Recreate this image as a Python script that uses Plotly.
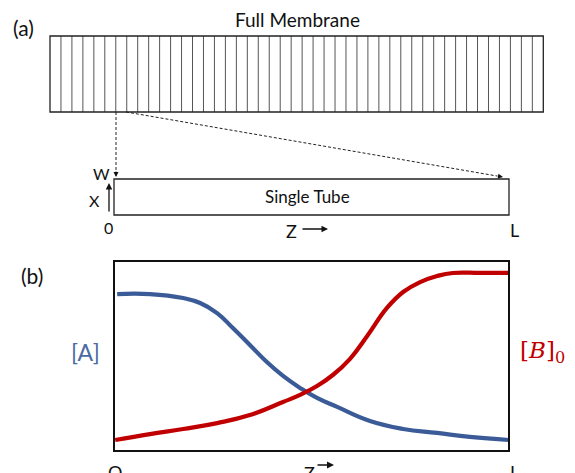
import plotly.graph_objects as go

# ---- data (panel b: normalised position along tube vs normalised concentration) ----
z_A = [0.008, 0.091, 0.175, 0.218, 0.261, 0.301, 0.344, 0.387, 0.428, 0.471,
       0.514, 0.565, 0.648, 0.732, 0.818, 0.901, 1.0]
conc_A = [0.826, 0.826, 0.805, 0.779, 0.726, 0.647, 0.558, 0.468, 0.395, 0.332,
          0.279, 0.232, 0.158, 0.116, 0.095, 0.074, 0.058]
z_B = [0.003, 0.091, 0.175, 0.261, 0.344, 0.428, 0.471, 0.514, 0.554, 0.597,
       0.641, 0.691, 0.732, 0.775, 0.818, 0.858, 0.927, 1.0]
conc_B = [0.058, 0.089, 0.116, 0.147, 0.189, 0.258, 0.295, 0.342, 0.400, 0.484,
          0.605, 0.753, 0.837, 0.889, 0.921, 0.937, 0.937, 0.937]
n_tubes = 45
x_tick_labels = ["O", "L"]

W, H = 575, 473
FONT = "Lato"
BLUE = "#3a5b97"
RED = "#c00000"

fig = go.Figure()

# overlay axis (pixel-like coordinates) for schematic panel (a)
fig.add_trace(go.Scatter(x=[0], y=[0], mode="markers", marker=dict(opacity=0),
                         hoverinfo="skip", showlegend=False, xaxis="x", yaxis="y"))

# panel (b) curves
fig.add_trace(go.Scatter(x=z_A, y=conc_A, mode="lines",
                         line=dict(color=BLUE, width=4.2, shape="spline", smoothing=1.3),
                         showlegend=False, xaxis="x2", yaxis="y2"))
fig.add_trace(go.Scatter(x=z_B, y=conc_B, mode="lines",
                         line=dict(color=RED, width=4.2, shape="spline", smoothing=1.3),
                         showlegend=False, xaxis="x2", yaxis="y2"))

shapes = []
# full membrane
mx0, mx1, my0, my1 = 50, 543.3, 36, 112
step = (mx1 - mx0) / n_tubes
for i in range(1, n_tubes):
    xi = mx0 + i * step
    shapes.append(dict(type="line", xref="x", yref="y", x0=xi, x1=xi, y0=my0, y1=my1,
                       line=dict(color="#555", width=1)))
shapes.append(dict(type="rect", xref="x", yref="y", x0=mx0, x1=mx1, y0=my0, y1=my1,
                   line=dict(color="#222", width=1.3), fillcolor="rgba(0,0,0,0)"))
# single tube
tx0, tx1, ty0, ty1 = 114, 509, 179, 215
shapes.append(dict(type="rect", xref="x", yref="y", x0=tx0, x1=tx1, y0=ty0, y1=ty1,
                   line=dict(color="#222", width=1.3), fillcolor="rgba(0,0,0,0)"))
# dashed connectors
shapes.append(dict(type="line", xref="x", yref="y", x0=116, x1=116, y0=112, y1=172,
                   line=dict(color="#222", width=1, dash="3px,2px")))
shapes.append(dict(type="line", xref="x", yref="y", x0=126, x1=497, y0=112, y1=176,
                   line=dict(color="#222", width=1, dash="3px,2px")))
# panel b box
shapes.append(dict(type="rect", xref="x2 domain", yref="y2 domain", x0=0, x1=1, y0=0, y1=1,
                   line=dict(color="#111", width=2), fillcolor="rgba(0,0,0,0)"))

ann = []
def txt(x, y, s, size=14, color="#111", family=FONT, **kw):
    ann.append(dict(x=x, y=y, xref="x", yref="y", text=s, showarrow=False,
                    font=dict(size=size, color=color, family=family), **kw))

def arrow(x, y, ax, ay, width=1.2, head=2, size=1):
    ann.append(dict(x=x, y=y, ax=ax, ay=ay, xref="x", yref="y", axref="x", ayref="y",
                    text="", showarrow=True, arrowhead=head, arrowsize=size,
                    arrowwidth=width, arrowcolor="#111"))

txt(297, 19, "Full Membrane", 19)
txt(23, 27, "(a)", 21)
txt(101, 173, "W", 16)
txt(94, 200, "X", 16)
txt(108, 227, "0", 16)
txt(307, 196, "Single Tube", 17)
txt(291, 231, "Z", 18)
txt(514, 230, "L", 18)
arrow(109, 183, 109, 213, width=1.3)
arrow(328, 229, 301, 229, width=1.3)
arrow(116, 177, 116, 170, width=1, head=2)
arrow(503, 177, 496, 175.8, width=1, head=2)

txt(32, 275, "(b)", 21)
txt(85, 352, "[A]", 23, color="#4a6aa4")
txt(542, 352, "[<i>B</i>]<sub>0</sub>", 23, color=RED, family="DejaVu Serif")
txt(115, 472, x_tick_labels[0], 18)
txt(514, 472, x_tick_labels[1], 18)
txt(309, 473, "Z", 18)
arrow(334, 465, 316, 465, width=1.4)

fig.update_layout(
    width=W, height=H, margin=dict(l=0, r=0, t=0, b=0),
    paper_bgcolor="white", plot_bgcolor="rgba(0,0,0,0)",
    xaxis=dict(range=[0, W], domain=[0, 1], visible=False, fixedrange=True),
    yaxis=dict(range=[H, 0], domain=[0, 1], visible=False, fixedrange=True),
    xaxis2=dict(range=[0, 1], domain=[114 / W, 509 / W], visible=False, anchor="y2"),
    yaxis2=dict(range=[0, 1], domain=[1 - 451 / H, 1 - 261 / H], visible=False, anchor="x2"),
    shapes=shapes, annotations=ann,
)
fig.write_html("out.html", config={"displayModeBar": False},
               post_script="document.body.style.margin='0px';")
